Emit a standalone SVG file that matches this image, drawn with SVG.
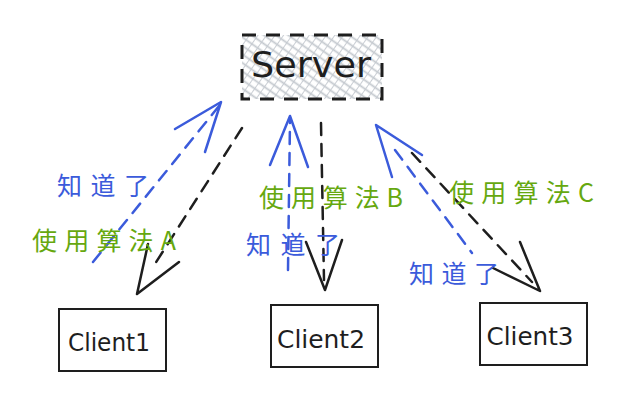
<svg xmlns="http://www.w3.org/2000/svg" width="628" height="406" viewBox="0 0 628 406">
<defs>
<pattern id="hatch" width="7" height="7" patternUnits="userSpaceOnUse" patternTransform="rotate(35)">
<rect width="7" height="7" fill="#fff"/>
<line x1="0" y1="0" x2="0" y2="7" stroke="#c4c9cf" stroke-width="1.8"/>
<line x1="0" y1="3.5" x2="7" y2="3.5" stroke="#c4c9cf" stroke-width="1.8"/>
</pattern>
<style>
.box{fill:#fff;stroke:#1e1e1e;stroke-width:2}
.lbl{font-family:"DejaVu Sans","Liberation Sans",sans-serif;fill:#1e1e1e;text-anchor:middle}
.zh{font-family:"Noto Sans CJK SC",sans-serif;font-size:25px}
.blue{fill:#3b5bdb}
.green{fill:#66a80f}
.bl{stroke:#3b5bdb;stroke-width:2.5;fill:none;stroke-linecap:round;stroke-linejoin:round}
.bk{stroke:#1e1e1e;stroke-width:2.5;fill:none;stroke-linecap:round;stroke-linejoin:round}
.dash{stroke-dasharray:12 9}
</style>
</defs>
<rect width="628" height="406" fill="#fff"/>
<g id="server">
<rect x="242" y="35" width="140" height="64" fill="url(#hatch)" stroke="#1e1e1e" stroke-width="3" stroke-dasharray="14 10"/>
<text class="lbl" x="311" y="77" font-size="36" textLength="120" lengthAdjust="spacingAndGlyphs">Server</text>
</g>
<g id="client1">
<rect class="box" x="59" y="309" width="107" height="62"/>
<text class="lbl" x="109" y="351" font-size="25" textLength="82" lengthAdjust="spacingAndGlyphs">Client1</text>
</g>
<g id="client2">
<rect class="box" x="271" y="305" width="107" height="62"/>
<text class="lbl" x="321" y="348" font-size="25" textLength="88" lengthAdjust="spacingAndGlyphs">Client2</text>
</g>
<g id="client3">
<rect class="box" x="480" y="303" width="107" height="62"/>
<text class="lbl" x="530" y="345" font-size="25" textLength="87" lengthAdjust="spacingAndGlyphs">Client3</text>
</g>
<g id="connectors">
<path class="bk dash" d="M242 128 L153 267"/>
<path class="bk" d="M148 244 L137 294 L179 262"/>
<path class="bl dash" d="M93 262 L219 106"/>
<path class="bl" d="M175 129 L221 102 L205 152"/>
<path class="bl dash" d="M288 270 L290 120"/>
<path class="bl" d="M270 165 L290 116 L308 167"/>
<path class="bk dash" d="M321 123 L324 280"/>
<path class="bk" d="M306 242 L325 290 L342 240"/>
<path class="bl dash" d="M395 150 L472 253"/>
<path class="bl" d="M392 177 L376 125 L422 155"/>
<path class="bk dash" d="M412 153 L532 282"/>
<path class="bk" d="M520 242 L540 291 L493 268"/>
</g>
<g id="labels">
<text class="zh blue" x="57" y="195" textLength="92" lengthAdjust="spacing">知道了</text>
<text class="zh green" x="32" y="250" textLength="144" lengthAdjust="spacing">使用算法A</text>
<text class="zh green" x="259" y="207" textLength="144" lengthAdjust="spacing">使用算法B</text>
<text class="zh blue" x="246" y="254" textLength="94" lengthAdjust="spacing">知道了</text>
<text class="zh green" x="449" y="202" textLength="145" lengthAdjust="spacing">使用算法C</text>
<text class="zh blue" x="409" y="283" textLength="90" lengthAdjust="spacing">知道了</text>
</g>
</svg>
